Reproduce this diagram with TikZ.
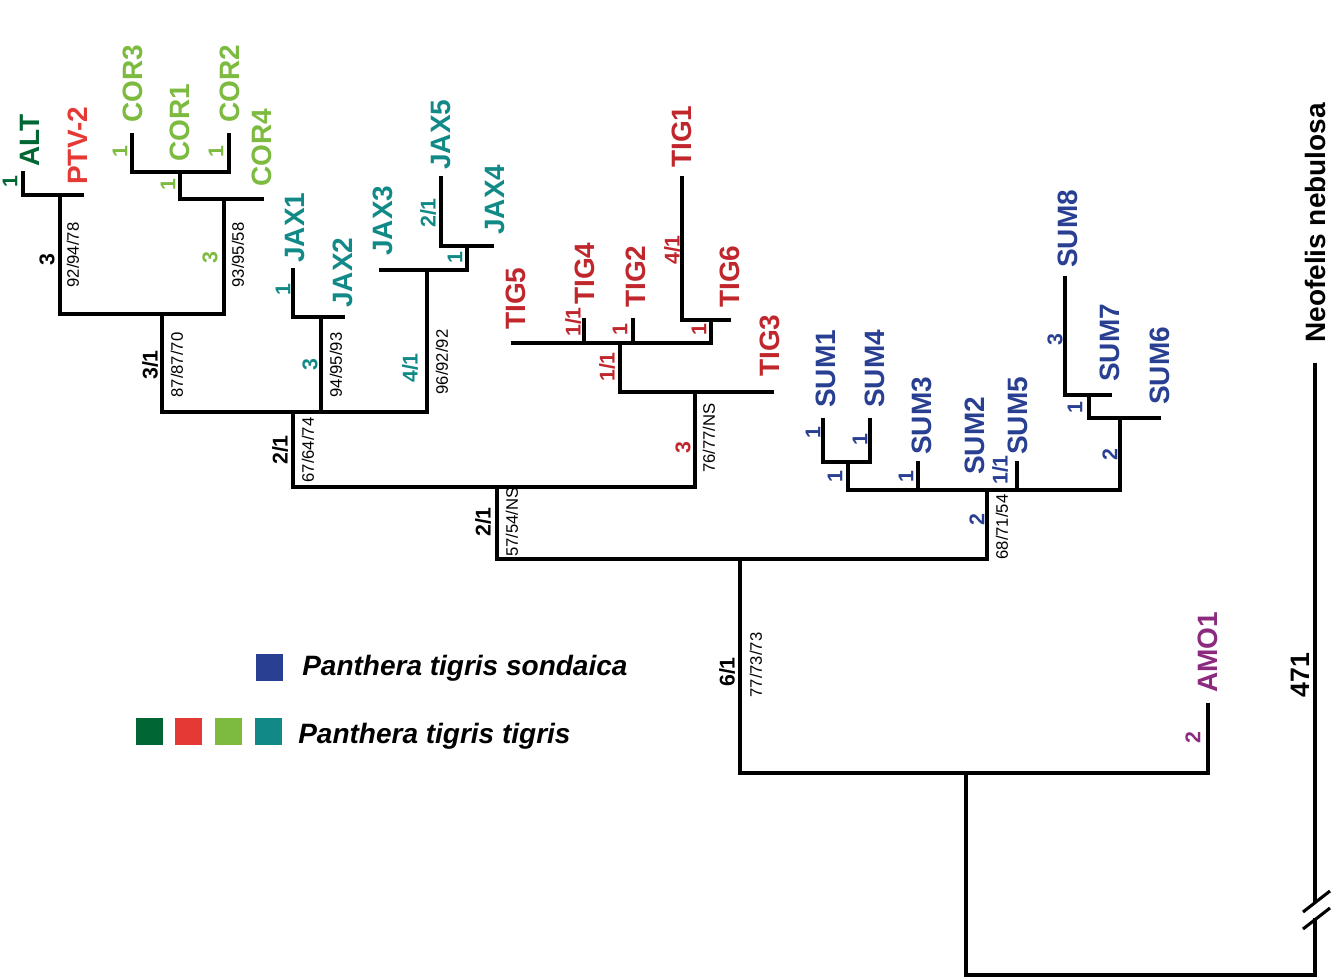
\documentclass[tikz,border=0pt]{standalone}
\usepackage{fontspec}
\setmainfont{Liberation Sans}
\definecolor{dg}{HTML}{006633}
\definecolor{rp}{HTML}{E53935}
\definecolor{lg}{HTML}{7CBB3F}
\definecolor{tl}{HTML}{118A87}
\definecolor{rt}{HTML}{C0272D}
\definecolor{bl}{HTML}{283F92}
\definecolor{pu}{HTML}{8B2A7E}
\begin{document}
\begin{tikzpicture}[x=0.75pt,y=-0.75pt,
  br/.style={line width=2.3pt,line cap=rect},
  tiplab/.style={rotate=90,anchor=west,inner sep=0pt,font=\fontsize{21}{21}\selectfont\bfseries},
  sup/.style={rotate=90,inner sep=0pt,font=\fontsize{12.5}{12.5}\selectfont},
  di/.style={rotate=90,inner sep=0pt,font=\fontsize{16}{16}\selectfont\bfseries},
  sq/.style={minimum size=20.25pt,inner sep=0pt,draw=none},
  leg/.style={anchor=west,inner sep=0pt,font=\fontsize{21}{21}\selectfont\bfseries\itshape}]
\useasboundingbox (0,0) rectangle (1335,980);
% tree branches
\draw[br] (23,173)--(23,195)--(82,195);
\draw[br] (60,195)--(60,314)--(224,314)--(224,199);
\draw[br] (132,135)--(132,172)--(229,172)--(229,135);
\draw[br] (180,172)--(180,199)--(262,199);
\draw[br] (162,314)--(162,412)--(427,412);
\draw[br] (293,270)--(293,317)--(343,317);
\draw[br] (321,317)--(321,412);
\draw[br] (441,178)--(441,246)--(492,246);
\draw[br] (467,246)--(467,270)--(381,270);
\draw[br] (427,270)--(427,412);
\draw[br] (293,412)--(293,487)--(695,487);
\draw[br] (513,343)--(711,343);
\draw[br] (584,320)--(584,343);
\draw[br] (633,320)--(633,343);
\draw[br] (682,178)--(682,320)--(729,320);
\draw[br] (711,320)--(711,343);
\draw[br] (620,343)--(620,392)--(772,392);
\draw[br] (695,392)--(695,487);
\draw[br] (497,487)--(497,559)--(987,559);
\draw[br] (823,420)--(823,462)--(870,462)--(870,420);
\draw[br] (848,462)--(848,490)--(1120,490);
\draw[br] (918,463)--(918,490);
\draw[br] (1017,463)--(1017,490);
\draw[br] (1065,278)--(1065,395)--(1110,395);
\draw[br] (1089,395)--(1089,418)--(1159,418);
\draw[br] (1120,418)--(1120,490);
\draw[br] (987,490)--(987,559);
\draw[br] (740,559)--(740,773)--(1208,773)--(1208,705);
\draw[br] (966,773)--(966,975)--(1315,975)--(1315,365);
\fill[white] (1300,903) rectangle (1330,918);
\draw[line width=2.3pt] (1303,912)--(1330,891);
\draw[line width=2.3pt] (1303,929)--(1330,908);
% tip labels
\node[tiplab,text=dg] (tALT) at (30,167) {ALT};
\node[tiplab,text=rp] (tPTV) at (78,185) {PTV-2};
\node[tiplab,text=lg] (tC3) at (133,123) {COR3};
\node[tiplab,text=lg] (tC1) at (180,162) {COR1};
\node[tiplab,text=lg] (tC2) at (230,123) {COR2};
\node[tiplab,text=lg] (tC4) at (262,187) {COR4};
\node[tiplab,text=tl] (tJ1) at (295,263) {JAX1};
\node[tiplab,text=tl] (tJ2) at (343,308) {JAX2};
\node[tiplab,text=tl] (tJ3) at (383,256) {JAX3};
\node[tiplab,text=tl] (tJ5) at (441,170) {JAX5};
\node[tiplab,text=tl] (tJ4) at (495,235) {JAX4};
\node[tiplab,text=rt] (tT5) at (516,330) {TIG5};
\node[tiplab,text=rt] (tT4) at (585,305) {TIG4};
\node[tiplab,text=rt] (tT2) at (636,308) {TIG2};
\node[tiplab,text=rt] (tT1) at (682,168) {TIG1};
\node[tiplab,text=rt] (tT6) at (730,308) {TIG6};
\node[tiplab,text=rt] (tT3) at (770,377) {TIG3};
\node[tiplab,text=bl] (tS1) at (826,408) {SUM1};
\node[tiplab,text=bl] (tS4) at (875,408) {SUM4};
\node[tiplab,text=bl] (tS3) at (922,455) {SUM3};
\node[tiplab,text=bl] (tS2) at (975,475) {SUM2};
\node[tiplab,text=bl] (tS5) at (1018,455) {SUM5};
\node[tiplab,text=bl] (tS8) at (1068,268) {SUM8};
\node[tiplab,text=bl] (tS7) at (1110,382) {SUM7};
\node[tiplab,text=bl] (tS6) at (1160,405) {SUM6};
\node[tiplab,text=pu] (tA1) at (1208,693) {AMO1};
\node[tiplab,text=black] (tNN) at (1315,343) {Neofelis nebulosa};
% support values
\node[sup] (s1) at (73,255) {92/94/78};
\node[sup] (s2) at (238,255) {93/95/58};
\node[sup] (s3) at (177,365) {87/87/70};
\node[sup] (s4) at (336,365) {94/95/93};
\node[sup] (s5) at (442,362) {96/92/92};
\node[sup] (s6) at (308,450) {67/64/74};
\node[sup] (s7) at (512,522) {57/54/NS};
\node[sup] (s8) at (709,438) {76/77/NS};
\node[sup] (s9) at (1002,527) {68/71/54};
\node[sup] (s10) at (756,665) {77/73/73};
% decay indices
\node[di,text=dg] (d1) at (10,182) {1};
\node[di] (d2) at (47,260) {3};
\node[di,text=lg] (d3) at (120,152) {1};
\node[di,text=lg] (d4) at (168,185) {1};
\node[di,text=lg] (d5) at (216,152) {1};
\node[di,text=lg] (d6) at (210,258) {3};
\node[di] (d7) at (150,365) {3/1};
\node[di,text=tl] (d8) at (283,290) {1};
\node[di,text=tl] (d9) at (310,365) {3};
\node[di,text=tl] (d10) at (428,213) {2/1};
\node[di,text=tl] (d11) at (455,258) {1};
\node[di,text=tl] (d12) at (410,368) {4/1};
\node[di] (d13) at (280,450) {2/1};
\node[di,text=rt] (d14) at (573,322) {1/1};
\node[di,text=rt] (d15) at (620,330) {1};
\node[di,text=rt] (d16) at (672,250) {4/1};
\node[di,text=rt] (d17) at (699,330) {1};
\node[di,text=rt] (d18) at (607,367) {1/1};
\node[di,text=rt] (d19) at (683,448) {3};
\node[di] (d20) at (483,522) {2/1};
\node[di,text=bl] (d21) at (813,433) {1};
\node[di,text=bl] (d22) at (860,440) {1};
\node[di,text=bl] (d23) at (835,477) {1};
\node[di,text=bl] (d24) at (906,477) {1};
\node[di,text=bl] (d25) at (1000,470) {1/1};
\node[di,text=bl] (d26) at (977,520) {2};
\node[di,text=bl] (d27) at (1055,340) {3};
\node[di,text=bl] (d28) at (1075,408) {1};
\node[di,text=bl] (d29) at (1110,455) {2};
\node[di] (d30) at (727,672) {6/1};
\node[di,text=pu] (d31) at (1193,738) {2};
\node[di,font=\fontsize{20}{20}\selectfont\bfseries] (d32) at (1300,675) {471};
% legend
\node[sq,fill=bl] (q0) at (269.5,667.5) {};
\node[leg] (l1) at (302,668) {Panthera tigris sondaica};
\node[sq,fill=dg] (q1) at (149.5,731.5) {};
\node[sq,fill=rp] (q2) at (188.5,731.5) {};
\node[sq,fill=lg] (q3) at (228.5,731.5) {};
\node[sq,fill=tl] (q4) at (268.5,731.5) {};
\node[leg] (l2) at (298,736) {Panthera tigris tigris};
\end{tikzpicture}
\end{document}
